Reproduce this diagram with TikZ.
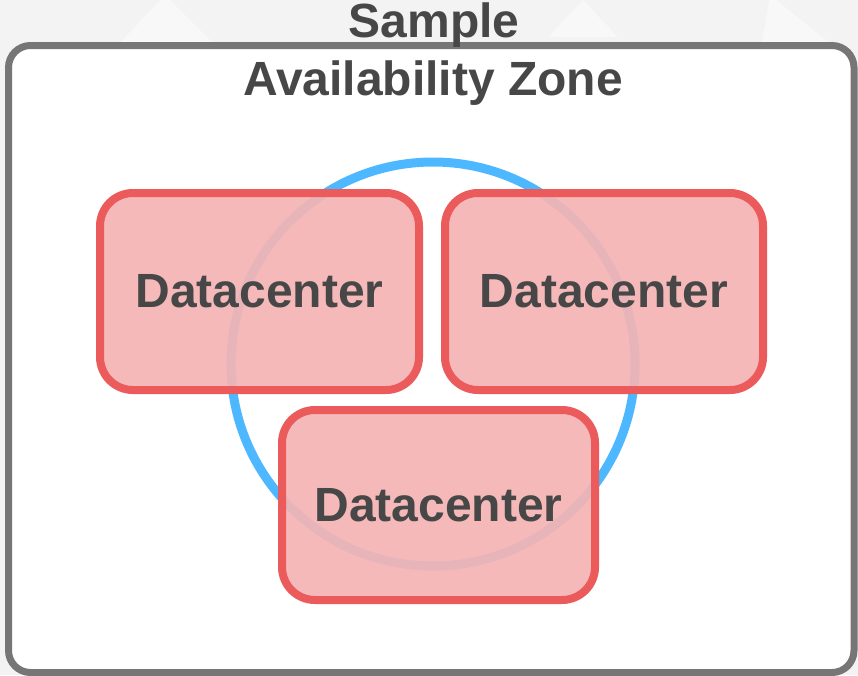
\documentclass[tikz,border=0pt]{standalone}
\usepackage{fontspec}
\setmainfont{Liberation Sans}
\definecolor{zonegray}{HTML}{767676}
\definecolor{ringblue}{HTML}{4DB7FF}
\definecolor{dcred}{HTML}{EB5B5B}
\definecolor{dcpink}{HTML}{F5B4B4}
\definecolor{labelgray}{HTML}{474747}
\definecolor{backgray}{HTML}{F3F3F3}

\begin{document}
\begin{tikzpicture}[x=1pt, y=-1pt,
    label/.style={text=labelgray, inner sep=0pt, font=\fontsize{48}{58}\selectfont\bfseries},
    zonebox/.style={draw=zonegray, line width=7pt, fill=white, rounded corners=22pt},
    ring/.style={circle, draw=ringblue, line width=9pt},
    dcbox/.style={draw=dcred, line width=8pt, fill=dcpink, fill opacity=0.92,
        draw opacity=1, text opacity=1, rounded corners=33pt, label}]
    \useasboundingbox (0,0) rectangle (858,675);
    \fill[backgray] (0,0) rectangle (858,675);
    % faint shapes behind the zone
    \fill[white, opacity=0.45] (118,45) -- (165,-5) -- (215,45) -- cycle;
    \fill[white, opacity=0.45] (548,37) -- (583,0) -- (618,37) -- cycle;
    \fill[white, opacity=0.45] (762,42) -- (770,-5) -- (832,45) -- cycle;

    \node[zonebox, minimum width=845.5pt, minimum height=627pt] (zone) at (431.25,359) {};
    \node[label, anchor=base] (sample) at (434,37) {Sample};
    \node[label, anchor=base] (zonename) at (433,95) {Availability Zone};

    \node[ring, minimum size=404pt] (ring) at (433,364) {};

    \node[dcbox, minimum width=319pt, minimum height=197pt] (dc1) at (259.5,291.5) {Datacenter};
    \node[dcbox, minimum width=318pt, minimum height=197pt] (dc2) at (604,291.5) {Datacenter};
    \node[dcbox, minimum width=313pt, minimum height=190pt] (dc3) at (438.5,505) {Datacenter};
\end{tikzpicture}
\end{document}
